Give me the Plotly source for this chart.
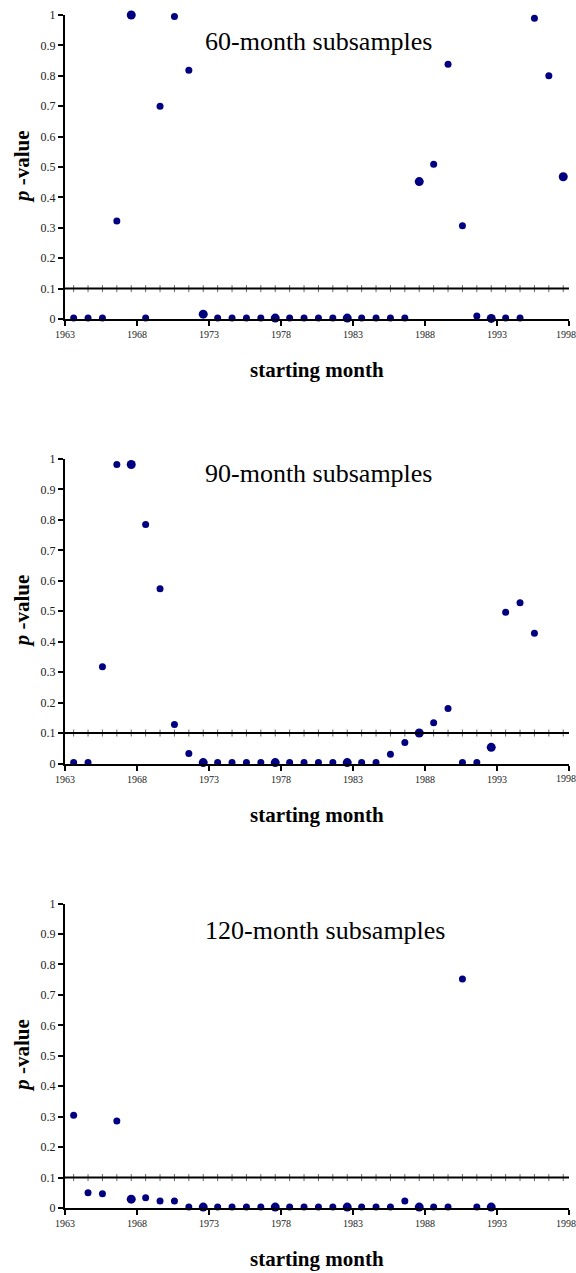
import plotly.graph_objects as go

# Starting months (mid-year) of each rolling subsample
start_60 = [1963.6 + k for k in range(35)]
start_90 = [1963.6 + k for k in range(33)]
start_120 = [1963.6 + k for k in range(30)]

p_60 = [0.003, 0.003, 0.003, 0.322, 1.0, 0.003, 0.700, 0.995, 0.818, 0.016,
        0.003, 0.003, 0.003, 0.003, 0.003, 0.003, 0.003, 0.003, 0.003, 0.003,
        0.003, 0.003, 0.003, 0.003, 0.452, 0.509, 0.838, 0.307, 0.010, 0.002,
        0.003, 0.003, 0.989, 0.800, 0.468]
p_90 = [0.003, 0.003, 0.318, 0.982, 0.982, 0.785, 0.574, 0.128, 0.033, 0.003,
        0.003, 0.003, 0.003, 0.003, 0.003, 0.003, 0.003, 0.003, 0.003, 0.003,
        0.003, 0.003, 0.030, 0.069, 0.100, 0.134, 0.181, 0.003, 0.003, 0.053,
        0.497, 0.528, 0.428]
p_120 = [0.305, 0.050, 0.047, 0.286, 0.029, 0.034, 0.023, 0.023, 0.003, 0.003,
         0.003, 0.003, 0.003, 0.003, 0.003, 0.003, 0.003, 0.003, 0.003, 0.003,
         0.003, 0.003, 0.003, 0.023, 0.003, 0.003, 0.003, 0.752, 0.003, 0.003]

titles = ["60-month subsamples", "90-month subsamples", "120-month subsamples"]
threshold = 0.1

x_ticks = [1963, 1968, 1973, 1978, 1983, 1988, 1993, 1998]
x_tick_text = ["1963", "1968", "1973", "1978", "1983", "1988", "1993", "1998"]
y_ticks = [0, 0.1, 0.2, 0.3, 0.4, 0.5, 0.6, 0.7, 0.8, 0.9, 1]
y_tick_text = ["0", "0.1", "0.2", "0.3", "0.4", "0.5", "0.6", "0.7", "0.8", "0.9", "1"]

W, H = 576, 1273
SERIF = "Liberation Serif"
NAVY = "#000080"

# pixel layout of the three panels (top, bottom of plot area)
panels_px = [(15, 319), (459, 763.5), (903.5, 1208)]
x_left, x_right = 65, 569
title_y_px = [42, 473, 930]

fig = go.Figure()
series = [(start_60, p_60), (start_90, p_90), (start_120, p_120)]

# last year label is set flush with the right edge so it stays on the page
axis_tick_text = x_tick_text[:-1] + [""]

for i, ((xs, ys), (top, bot)) in enumerate(zip(series, panels_px)):
    n = i + 1
    xa = "x" if n == 1 else f"x{n}"
    ya = "y" if n == 1 else f"y{n}"

    # threshold guide marks at each starting month
    fig.add_trace(go.Scatter(
        x=start_60, y=[threshold] * len(start_60), mode="markers",
        marker=dict(symbol="line-ns", size=5, line=dict(color="#666666", width=1)),
        xaxis=xa, yaxis=ya, showlegend=False, hoverinfo="skip", cliponaxis=False))

    sizes = [9 if (round(x - 1963.6) % 5 == 4) else 7 for x in xs]
    fig.add_trace(go.Scatter(
        x=xs, y=ys, mode="markers",
        marker=dict(color=NAVY, size=sizes, opacity=1, line=dict(width=0)),
        xaxis=xa, yaxis=ya, showlegend=False, cliponaxis=False))

    # 10% significance line
    fig.add_shape(type="line", xref=xa, yref=ya, x0=1963, x1=1998.3,
                  y0=threshold, y1=threshold, line=dict(color="black", width=2))

    dom_y = [1 - bot / H, 1 - top / H]
    fig.update_layout(**{
        ("xaxis" if n == 1 else f"xaxis{n}"): dict(
            domain=[x_left / W, x_right / W], range=[1963, 1998],
            anchor=ya, tickmode="array", tickvals=x_ticks, ticktext=axis_tick_text,
            ticks="outside", ticklen=5, tickwidth=2, tickcolor="black",
            automargin=False,
            showline=True, linecolor="black", linewidth=2, showgrid=False,
            zeroline=False, tickfont=dict(family=SERIF, size=10, color="#222222")),
        ("yaxis" if n == 1 else f"yaxis{n}"): dict(
            domain=dom_y, range=[0, 1], anchor=xa, automargin=False,
            tickmode="array", tickvals=y_ticks, ticktext=y_tick_text,
            ticks="outside", ticklen=5, tickwidth=1.5, tickcolor="black",
            showline=True, linecolor="black", linewidth=2, showgrid=False,
            zeroline=False, tickfont=dict(family=SERIF, size=12, color="#222222")),
    })

    fig.add_annotation(text=x_tick_text[-1], xref="paper", yref="paper",
                       x=1.0, y=1 - (bot + 15) / H, xanchor="right", yanchor="middle",
                       showarrow=False, borderpad=0, xshift=1,
                       font=dict(family=SERIF, size=10, color="#222222"))

    # panel title
    fig.add_annotation(text=titles[i], xref="paper", yref="paper",
                       x=203 / W, y=1 - title_y_px[i] / H, xanchor="left", yanchor="middle",
                       showarrow=False, font=dict(family=SERIF, size=26, color="black"))
    # y-axis title
    fig.add_annotation(text="<b><i>p</i> -value</b>", xref="paper", yref="paper",
                       x=22 / W, y=1 - (top + bot) / 2 / H, textangle=-90,
                       xanchor="center", yanchor="middle", showarrow=False,
                       font=dict(family=SERIF, size=21, color="black"))
    # x-axis title
    fig.add_annotation(text="<b>starting month</b>", xref="paper", yref="paper",
                       x=317 / W, y=1 - (bot + 51) / H, xanchor="center", yanchor="middle",
                       showarrow=False, font=dict(family=SERIF, size=21, color="black"))

fig.update_layout(width=W, height=H, margin=dict(l=0, r=0, t=0, b=0),
                  paper_bgcolor="white", plot_bgcolor="white")

fig.write_html("out.html")
